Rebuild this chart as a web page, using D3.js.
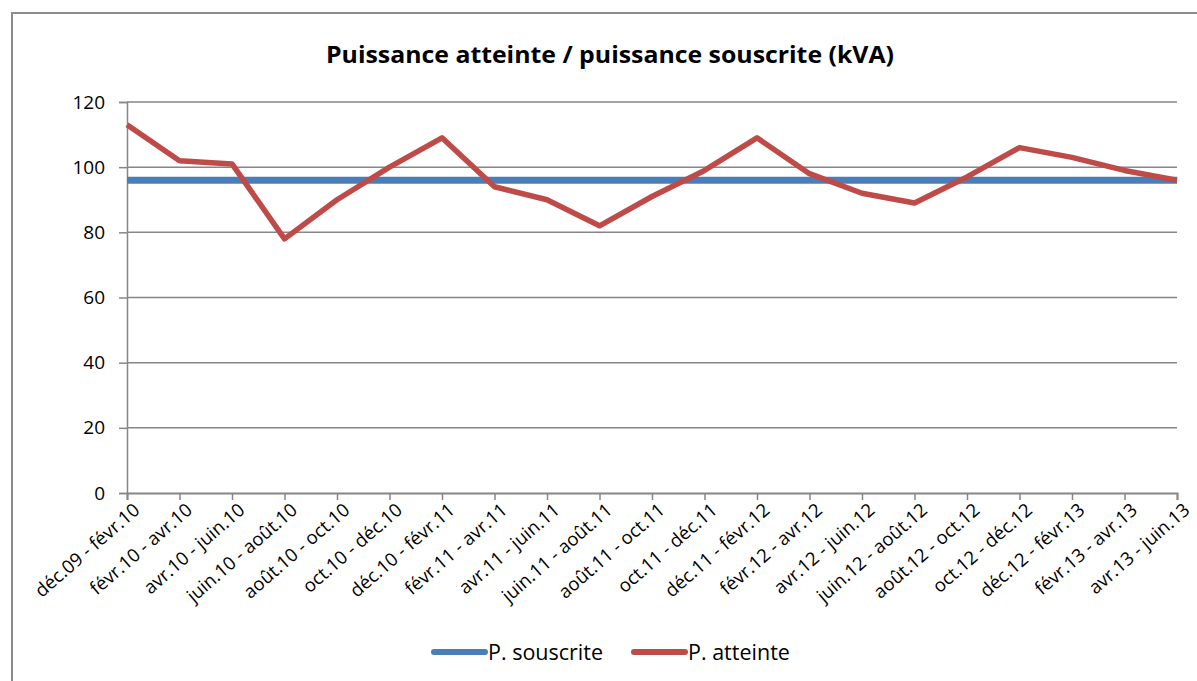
<!DOCTYPE html>
<html><head><meta charset="utf-8">
<script src="https://cdn.jsdelivr.net/npm/d3@7"></script>
<style>
html,body{margin:0;padding:0;background:#fff;}
svg{display:block;font-family:"Open Sans",sans-serif;}
</style></head>
<body>
<svg id="chart" width="1197" height="681"></svg>
<script>
const categories = ["déc.09 - févr.10","févr.10 - avr.10","avr.10 - juin.10","juin.10 - août.10","août.10 - oct.10","oct.10 - déc.10","déc.10 - févr.11","févr.11 - avr.11","avr.11 - juin.11","juin.11 - août.11","août.11 - oct.11","oct.11 - déc.11","déc.11 - févr.12","févr.12 - avr.12","avr.12 - juin.12","juin.12 - août.12","août.12 - oct.12","oct.12 - déc.12","déc.12 - févr.13","févr.13 - avr.13","avr.13 - juin.13"];
const souscrite = [96,96,96,96,96,96,96,96,96,96,96,96,96,96,96,96,96,96,96,96,96];
const atteinte = [113,102,101,78,90,100,109,94,90,82,91,99,109,98,92,89,97,106,103,99,96];
const yTicks = [0,20,40,60,80,100,120];
const title = "Puissance atteinte / puissance souscrite (kVA)";
const seriesNames = ["P. souscrite","P. atteinte"];
const colors = ["#4a7ebb","#be4b48"];

const svg = d3.select("#chart");
const pLeft = 127, pRight = 1177, pTop = 102, pBottom = 493;

// outer frame
svg.append("rect").attr("x",12).attr("y",13).attr("width",1197).attr("height",700)
  .attr("fill","none").attr("stroke","#8c8c8c").attr("stroke-width",2);

const x = d3.scalePoint().domain(categories).range([pLeft,pRight]);
const y = d3.scaleLinear().domain([0,120]).range([pBottom,pTop]);

// title
svg.append("text").attr("x",610).attr("y",63).attr("text-anchor","middle")
  .attr("font-size",23).attr("font-weight","bold").attr("fill","#000")
  .attr("textLength",568).attr("lengthAdjust","spacingAndGlyphs")
  .text(title);

// gridlines + y axis
const yAxis = d3.axisLeft(y).tickValues(yTicks).tickSize(8).tickPadding(14);
const gy = svg.append("g").attr("transform",`translate(${pLeft},0)`).call(yAxis);
gy.select(".domain").attr("stroke","#868686").attr("stroke-width",1.5);
gy.selectAll(".tick line").attr("stroke","#868686").attr("stroke-width",1.5);
gy.selectAll(".tick text").attr("font-size",19).attr("fill","#000")
  .attr("font-family","'Open Sans',sans-serif");
svg.append("g").selectAll("line").data(yTicks.filter(d=>d>0)).join("line")
  .attr("x1",pLeft).attr("x2",pRight).attr("y1",d=>y(d)).attr("y2",d=>y(d))
  .attr("stroke","#868686").attr("stroke-width",1.5);

// x axis
const xAxis = d3.axisBottom(x).tickSize(7).tickPadding(6);
const gx = svg.append("g").attr("transform",`translate(0,${pBottom})`).call(xAxis);
gx.select(".domain").attr("stroke","#868686").attr("stroke-width",2);
gx.selectAll(".tick line").attr("stroke","#868686").attr("stroke-width",1.5);
gx.selectAll(".tick text").attr("font-size",18.5).attr("fill","#000")
  .attr("font-family","'Open Sans',sans-serif")
  .attr("text-anchor","end").attr("dy","0")
  .attr("transform","translate(5,9) rotate(-41)");

// lines
const line = d3.line().x((d,i)=>x(categories[i])).y(d=>y(d));
svg.append("path").datum(souscrite).attr("d",line).attr("fill","none")
  .attr("stroke",colors[0]).attr("stroke-width",7);
svg.append("path").datum(atteinte).attr("d",line).attr("fill","none")
  .attr("stroke",colors[1]).attr("stroke-width",5.5).attr("stroke-linejoin","round");

// legend
const legendItems = [{x:434,name:seriesNames[0],c:colors[0]},{x:634,name:seriesNames[1],c:colors[1]}];
const lg = svg.append("g");
legendItems.forEach(it=>{
  lg.append("line").attr("x1",it.x).attr("x2",it.x+51).attr("y1",652).attr("y2",652)
    .attr("stroke",it.c).attr("stroke-width",6).attr("stroke-linecap","round");
  lg.append("text").attr("x",it.x+54).attr("y",660).attr("font-size",21.5).attr("fill","#000")
    .text(it.name);
});
</script>
</body></html>
